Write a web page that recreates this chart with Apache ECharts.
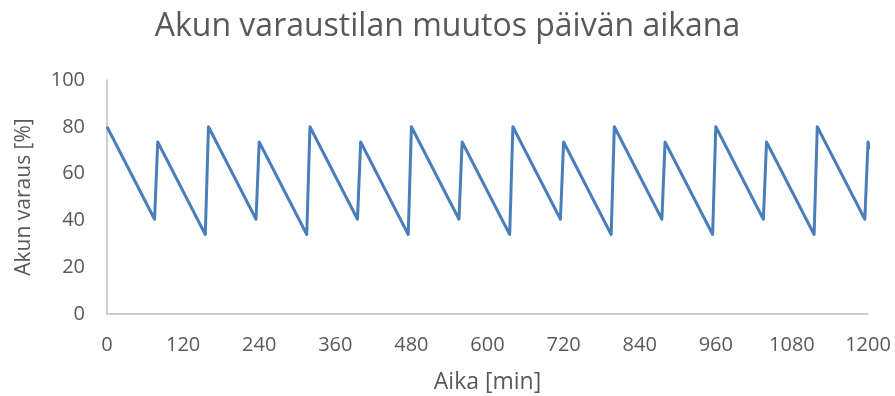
<!DOCTYPE html>
<html>
<head>
<meta charset="utf-8">
<script src="https://cdn.jsdelivr.net/npm/echarts@6/dist/echarts.min.js"></script>
<style>
  html, body { margin: 0; padding: 0; background: #ffffff; }
  #chart { width: 895px; height: 396px; }
</style>
</head>
<body>
<div id="chart"></div>
<script>
// Battery state of charge over the day: time [min] and charge [%]
const timeMin = [0, 75, 80, 155, 160, 235, 240, 315, 320, 395, 400, 475, 480, 555, 560, 635,
                 640, 715, 720, 795, 800, 875, 880, 955, 960, 1035, 1040, 1115, 1120, 1195, 1200, 1205];
const chargePct = [80, 40.5, 73.5, 34, 80, 40.5, 73.5, 34, 80, 40.5, 73.5, 34, 80, 40.5, 73.5, 34,
                   80, 40.5, 73.5, 34, 80, 40.5, 73.5, 34, 80, 40.5, 73.5, 34, 80, 40.5, 73.5, 70.5];

const titleText = 'Akun varaustilan muutos päivän aikana';
const xAxisName = 'Aika [min]';
const yAxisName = 'Akun varaus [%]';

const points = timeMin.map((t, i) => [t, chargePct[i]]);

const textColor = '#595959';
const fontFamily = '"Open Sans", sans-serif';

const chart = echarts.init(document.getElementById('chart'), null, { renderer: 'canvas' });
chart.setOption({
  animation: false,
  backgroundColor: '#ffffff',
  title: {
    text: titleText,
    left: 'center',
    top: 6,
    textStyle: { color: textColor, fontSize: 32, fontWeight: 'normal', fontFamily: fontFamily }
  },
  grid: { left: 107, right: 27, top: 80, bottom: 82, containLabel: false, outerBoundsMode: 'none' },
  xAxis: {
    type: 'value',
    min: 0,
    max: 1200,
    interval: 120,
    name: xAxisName,
    nameLocation: 'middle',
    nameGap: 57,
    nameTextStyle: { color: textColor, fontSize: 23, fontFamily: fontFamily },
    axisLine: { show: true, lineStyle: { color: '#bfbfbf', width: 1.5 } },
    axisTick: { show: false },
    splitLine: { show: false },
    axisLabel: {
      color: textColor, fontSize: 20, fontFamily: fontFamily, margin: 21,
      formatter: v => String(v)
    }
  },
  yAxis: {
    type: 'value',
    min: 0,
    max: 100,
    interval: 20,
    name: yAxisName,
    nameLocation: 'middle',
    nameGap: 72,
    nameTextStyle: { color: textColor, fontSize: 21, fontFamily: fontFamily },
    axisLine: { show: true, lineStyle: { color: '#bfbfbf', width: 1.5 } },
    axisTick: { show: false },
    splitLine: { show: false },
    axisLabel: { color: textColor, fontSize: 20, fontFamily: fontFamily, margin: 22 }
  },
  series: [{
    type: 'line',
    data: points,
    showSymbol: false,
    clip: false,
    lineStyle: { color: '#4a7ebb', width: 3, join: 'round' },
    itemStyle: { color: '#4a7ebb' }
  }]
});
</script>
</body>
</html>
